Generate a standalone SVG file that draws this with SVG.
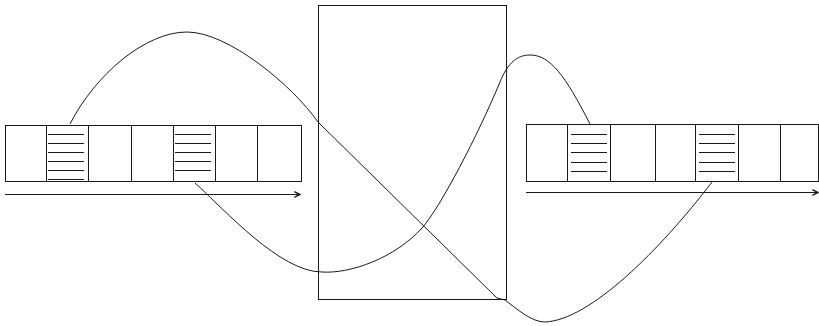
<svg xmlns="http://www.w3.org/2000/svg" width="819" height="326" viewBox="0 0 819 326">
<defs>
<style>
.ln{fill:none;stroke:#1a1a1a;stroke-width:1}
.cell{fill:none;stroke:#1a1a1a;stroke-width:1}
.hatch{stroke:#1a1a1a;stroke-width:1}
.conn{fill:none;stroke:#1a1a1a;stroke-width:1}
</style>
<marker id="chev" viewBox="0 0 10 10" refX="9" refY="5" markerWidth="7" markerHeight="7" markerUnits="userSpaceOnUse" orient="auto">
<path d="M1,1 L9,5 L1,9" fill="none" stroke="#1a1a1a" stroke-width="2"/>
</marker>
</defs>
<rect width="819" height="326" fill="#ffffff"/>

<g id="left-strip">
<rect class="cell" x="5.5" y="125.5" width="296" height="56"/>
<path class="ln" d="M46.5,125.5V181.5 M88.5,125.5V181.5 M131.5,125.5V181.5 M173.5,125.5V181.5 M215.5,125.5V181.5 M257.5,125.5V181.5"/>
<g id="left-hatch-1">
<path class="hatch" d="M48,134.5H84 M48,143.5H84 M48,152.5H84 M48,161.5H84 M48,170.5H84 M48,179.5H84"/>
</g>
<g id="left-hatch-2">
<path class="hatch" d="M175,134.5H211 M175,143.5H211 M175,152.5H211 M175,161.5H211 M175,170.5H211"/>
</g>
<line class="ln" x1="5" y1="194.5" x2="300" y2="194.5" marker-end="url(#chev)"/>
</g>

<g id="center-box">
<rect class="cell" x="318.5" y="5.5" width="188" height="294"/>
</g>

<g id="right-strip">
<rect class="cell" x="526.5" y="124.5" width="292" height="57"/>
<path class="ln" d="M567.5,124.5V181.5 M610.5,124.5V181.5 M655.5,124.5V181.5 M695.5,124.5V181.5 M738.5,124.5V181.5 M780.5,124.5V181.5"/>
<g id="right-hatch-1">
<path class="hatch" d="M571,134.5H607 M571,143.5H607 M571,152.5H607 M571,162.5H607 M571,171.5H607"/>
</g>
<g id="right-hatch-2">
<path class="hatch" d="M699,134.5H735 M699,143.5H735 M699,152.5H735 M699,162.5H735 M699,171.5H735"/>
</g>
<line class="ln" x1="526" y1="192.5" x2="818" y2="192.5" marker-end="url(#chev)"/>
</g>

<g id="connectors">
<path class="conn" d="M70,124 C95,75 145,32 187,32 C228,32 292,85 318,122 L497,298 L505,300 C518,310 532,322 545,322 C590,320 660,250 712,182"/>
<path class="conn" d="M195,183 C225,210 280,272 322,272 C350,274 395,258 422,228 C440,208 478,135 500,82 C508,62 518,55 530,55 C550,55 565,75 590,124"/>
</g>
</svg>
